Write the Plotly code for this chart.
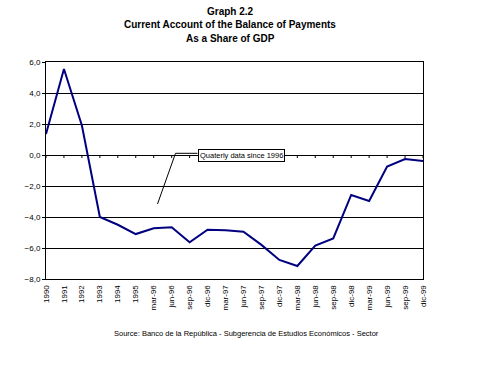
import plotly.graph_objects as go

categories = ["1990", "1991", "1992", "1993", "1994", "1995",
              "mar-96", "jun-96", "sep-96", "dic-96",
              "mar-97", "jun-97", "sep-97", "dic-97",
              "mar-98", "jun-98", "sep-98", "dic-98",
              "mar-99", "jun-99", "sep-99", "dic-99"]
current_account = [1.35, 5.55, 1.9, -4.0, -4.5, -5.1,
                   -4.73, -4.66, -5.63, -4.82,
                   -4.86, -4.95, -5.8, -6.77,
                   -7.16, -5.85, -5.38, -2.58,
                   -2.97, -0.75, -0.26, -0.39]
y_ticks = [6, 4, 2, 0, -2, -4, -6, -8]

FONT = "Liberation Sans, Arial, sans-serif"

fig = go.Figure()
fig.add_trace(go.Scatter(
    x=list(range(len(categories))), y=current_account, mode="lines",
    line=dict(color="#000080", width=2), hoverinfo="skip", showlegend=False))

# small tick marks on the category axis crossing at zero
shapes = []
for i in range(len(categories)):
    shapes.append(dict(type="line", xref="x", yref="y", x0=i, x1=i,
                       ysizemode="pixel", yanchor=0, y0=0, y1=-3,
                       line=dict(color="black", width=1)))

# annotation leader line (paper coords)
L, R, T, B = 46, 423, 62, 279
W, H = 485, 366
def px(x):
    return (x - L) / (R - L)
def py(y):
    return (B - y) / (B - T)
shapes.append(dict(type="path", xref="paper", yref="paper",
                   path=f"M {px(157.5)} {py(204)} L {px(175.5)} {py(153.3)} L {px(197.5)} {py(153.3)}",
                   line=dict(color="black", width=1)))

fig.update_layout(
    width=W, height=H,
    margin=dict(l=L, r=W - R, t=T, b=H - B),
    paper_bgcolor="white", plot_bgcolor="white",
    separators=",.",
    showlegend=False,
    shapes=shapes,
    font=dict(family=FONT, color="black", size=8),
    xaxis=dict(
        range=[0, len(categories) - 1],
        tickmode="array", tickvals=list(range(len(categories))), ticktext=categories,
        tickangle=-90, ticks="", showgrid=False, zeroline=False,
        showline=True, linecolor="black", linewidth=1, mirror=True,
        tickfont=dict(size=8, family=FONT), ticklabelstandoff=2),
    yaxis=dict(
        range=[-8, 6], tickmode="array", tickvals=y_ticks, tickformat=".1f",
        showgrid=True, gridcolor="black", gridwidth=1, zeroline=False,
        ticks="outside", ticklen=3, tickcolor="black",
        showline=True, linecolor="black", linewidth=1, mirror=True,
        tickfont=dict(size=8, family=FONT)),
    annotations=[
        dict(text="<b>Graph 2.2</b>", xref="paper", yref="paper",
             x=px(230), y=py(11), xanchor="center", yanchor="middle",
             showarrow=False, font=dict(size=10, family=FONT)),
        dict(text="<b>Current Account of the Balance of Payments</b>", xref="paper", yref="paper",
             x=px(230), y=py(25), xanchor="center", yanchor="middle",
             showarrow=False, font=dict(size=10, family=FONT)),
        dict(text="<b>As a Share of GDP</b>", xref="paper", yref="paper",
             x=px(230), y=py(38), xanchor="center", yanchor="middle",
             showarrow=False, font=dict(size=10, family=FONT)),
        dict(text="Quaterly data since 1996", xref="paper", yref="paper",
             x=px(197.5), y=py(155), xanchor="left", yanchor="middle",
             showarrow=False, font=dict(size=7.5, family=FONT),
             bgcolor="white", bordercolor="black", borderwidth=1, borderpad=1),
        dict(text="Source: Banco de la República - Subgerencia de Estudios Económicos - Sector",
             xref="paper", yref="paper", x=px(246), y=py(333),
             xanchor="center", yanchor="middle", showarrow=False,
             font=dict(size=7.5, family=FONT)),
    ],
)

fig.write_html("out.html", config={"displayModeBar": False},
               post_script="document.body.style.margin='0';document.body.style.overflow='hidden';")
